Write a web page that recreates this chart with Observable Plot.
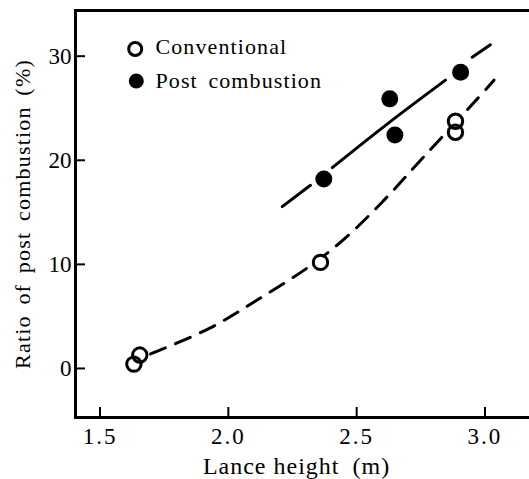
<!DOCTYPE html>
<html><head><meta charset="utf-8">
<script src="https://cdn.jsdelivr.net/npm/d3@7"></script>
<script src="https://cdn.jsdelivr.net/npm/@observablehq/plot@0.6"></script>
<style>
body{margin:0;background:#fff}
#chart svg, #chart svg text{font-family:"Liberation Serif", "Times New Roman", serif !important}
g[aria-label="x-axis tick label"] text{letter-spacing:2px}
g[aria-description="legend-text"]{letter-spacing:1.1px;word-spacing:4px}
g[aria-description="x-title"]{letter-spacing:1px}
g[aria-description="y-title"]{letter-spacing:1.2px;word-spacing:4px}
</style></head><body><div id="chart"></div>
<script>
const xTicks = [1.5, 2.0, 2.5, 3.0];
const xTickLabels = ["1.5", "2.0", "2.5", "3.0"];
const yTicks = [0, 10, 20, 30];
const yTickLabels = ["0", "10", "20", "30"];
const conventionalX = [1.632, 1.655, 2.359, 2.885, 2.885];
const conventionalY = [0.42, 1.29, 10.19, 23.75, 22.69];
const postX = [2.372, 2.629, 2.649, 2.905];
const postY = [18.21, 25.9, 22.44, 28.46];
const convCurveX = [1.697, 1.93, 2.12, 2.31, 2.45, 2.60, 2.76, 2.97, 3.035];
const convCurveY = [1.4, 3.9, 6.7, 9.7, 12.4, 16.0, 20.3, 25.9, 27.7];
const postLineSeg = [1, 1, 2, 2, 2, 3, 3];
const postLineX = [2.21, 2.32, 2.405, 2.625, 2.846, 2.95, 3.021];
const postLineY = [15.55, 17.6, 19.3, 23.6, 27.7, 29.9, 31.1];
const legendLabels = ["Conventional", "Post combustion"];
const xLabel = "Lance height\u2002(m)";
const yLabel = "Ratio of post combustion (%)";

const conv = conventionalX.map((x, i) => ({x, y: conventionalY[i]}));
const post = postX.map((x, i) => ({x, y: postY[i]}));
const convCurve = convCurveX.map((x, i) => ({x, y: convCurveY[i]}));
const postLine = postLineX.map((x, i) => ({x, y: postLineY[i], seg: postLineSeg[i]}));

const chart = Plot.plot({
  width: 529,
  height: 479,
  marginLeft: 75,
  marginRight: 0,
  marginTop: 10,
  marginBottom: 62,
  style: {fontFamily: "Liberation Serif, serif", fontSize: "23px", background: "#fff", color: "#000"},
  x: {domain: [1.4045, 3.1734]},
  y: {domain: [-4.71, 34.39]},
  marks: [
    Plot.frame({anchor: "left", strokeWidth: 3}),
    Plot.frame({anchor: "top", strokeWidth: 3}),
    Plot.frame({anchor: "bottom", strokeWidth: 3}),
    Plot.axisX(xTicks, {tickSize: -10, strokeWidth: 2, text: null, label: null}),
    Plot.axisX(xTicks, {tickSize: 0, tickPadding: 10, tickFormat: d => xTickLabels[xTicks.indexOf(d)], label: null, fontSize: 23}),
    Plot.axisY(yTicks, {tickSize: -10, strokeWidth: 2, text: null, label: null}),
    Plot.axisY(yTicks, {tickSize: 0, tickPadding: 4, tickFormat: d => yTickLabels[yTicks.indexOf(d)], label: null, fontSize: 23}),
    Plot.line(convCurve, {x: "x", y: "y", curve: "catmull-rom", strokeWidth: 3, strokeDasharray: "16,11"}),
    Plot.line(postLine, {x: "x", y: "y", z: "seg", curve: "catmull-rom", strokeWidth: 3}),
    Plot.dot(conv, {x: "x", y: "y", r: 7.2, fill: "white"}),
    Plot.dot(conv, {x: "x", y: "y", r: 7.2, fill: "none", stroke: "black", strokeWidth: 3}),
    Plot.dot(post, {x: "x", y: "y", r: 8.5, fill: "black"}),
    Plot.dot([legendLabels[0]], {frameAnchor: "top-left", dx: 59.7, dy: 38.5, r: 6.5, fill: "white", stroke: "black", strokeWidth: 3}),
    Plot.dot([legendLabels[1]], {frameAnchor: "top-left", dx: 60.8, dy: 70.5, r: 7.5, fill: "black"}),
    Plot.text([legendLabels[0]], {text: d => d, frameAnchor: "top-left", dx: 80, dy: 36.3, textAnchor: "start", lineAnchor: "middle", fontSize: 22, ariaDescription: "legend-text"}),
    Plot.text([legendLabels[1]], {text: d => d, frameAnchor: "top-left", dx: 80, dy: 70.5, textAnchor: "start", lineAnchor: "middle", fontSize: 22, ariaDescription: "legend-text"}),
    Plot.text([xLabel], {text: d => d, frameAnchor: "bottom", dx: -6, dy: 49.3, textAnchor: "middle", lineAnchor: "middle", fontSize: 24, ariaDescription: "x-title"}),
    Plot.text([yLabel], {text: d => d, frameAnchor: "left", dx: -53, rotate: -90, textAnchor: "middle", lineAnchor: "middle", fontSize: 22, ariaDescription: "y-title"})
  ]
});
document.getElementById("chart").appendChild(chart);
</script>
</body></html>
